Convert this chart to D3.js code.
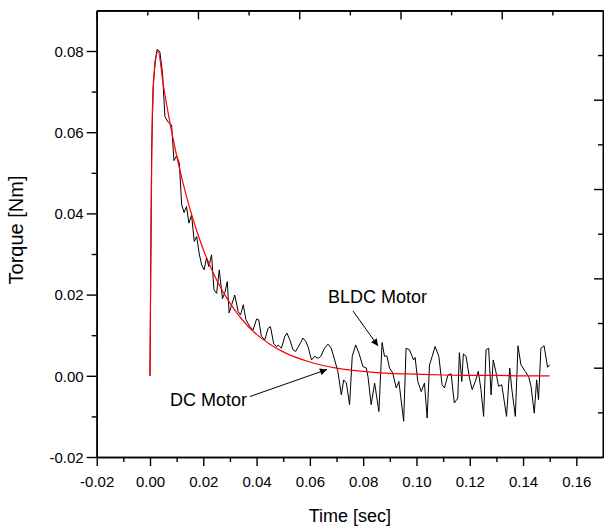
<!DOCTYPE html>
<html>
<head>
<meta charset="utf-8">
<script src="https://cdn.jsdelivr.net/npm/d3@7"></script>
<style>
  body { margin: 0; background: #fff; }
  svg { display: block; font-family: "Liberation Sans", Arial, sans-serif; }
</style>
</head>
<body>
<div id="chart"></div>
<script>
// Time axis [sec] for the BLDC motor trace
const bldcTime = [0, 0.0006, 0.0012, 0.0019, 0.0027, 0.0037, 0.0047, 0.0056, 0.0069, 0.0081,
  0.009, 0.01, 0.011, 0.0119, 0.0128, 0.0137, 0.0146, 0.0156, 0.0166, 0.0175,
  0.0185, 0.0194, 0.0203, 0.0212, 0.0221, 0.0231, 0.024, 0.025, 0.026, 0.0272,
  0.0281, 0.029, 0.0297, 0.0318, 0.0331, 0.034, 0.035, 0.036, 0.0375, 0.0387,
  0.04, 0.0408, 0.0418, 0.0431, 0.0443, 0.0452, 0.0464, 0.0474, 0.0483, 0.0493,
  0.0506, 0.0514, 0.0524, 0.0537, 0.0547, 0.0555, 0.0564, 0.0574, 0.0584, 0.0593,
  0.0606, 0.0618, 0.0631, 0.0641, 0.0655, 0.0668, 0.068, 0.0693, 0.0705, 0.0718,
  0.0727, 0.0737, 0.0749, 0.0759, 0.0772, 0.0784, 0.0799, 0.0812, 0.0818, 0.083,
  0.0843, 0.0859, 0.0871, 0.088, 0.0889, 0.0899, 0.0911, 0.0924, 0.0934, 0.0952,
  0.0961, 0.0974, 0.0989, 0.0995, 0.1005, 0.1018, 0.103, 0.104, 0.1049, 0.1059,
  0.107, 0.1084, 0.1096, 0.1105, 0.1118, 0.113, 0.1142, 0.1155, 0.1161, 0.117,
  0.1176, 0.1186, 0.1199, 0.1209, 0.1221, 0.1232, 0.1242, 0.1252, 0.1261, 0.1271,
  0.128, 0.1288, 0.1298, 0.1308, 0.132, 0.1338, 0.135, 0.1358, 0.1371, 0.1381,
  0.1392, 0.1408, 0.1421, 0.143, 0.1442, 0.1451, 0.1458, 0.1467, 0.1479, 0.1492, 0.15]

// Torque [Nm] of the BLDC motor
const bldcTorque = [0, 0.055, 0.071, 0.0775, 0.0804, 0.0798, 0.0745, 0.0638, 0.0624, 0.0618,
  0.053, 0.0542, 0.0524, 0.0421, 0.0402, 0.0417, 0.0376, 0.0396, 0.0331, 0.0343,
  0.0300, 0.0273, 0.0261, 0.029, 0.0269, 0.0298, 0.0212, 0.0203, 0.0261, 0.019,
  0.0205, 0.0232, 0.0155, 0.0199, 0.0158, 0.015, 0.0175, 0.0138, 0.0121, 0.0113,
  0.014, 0.0138, 0.0097, 0.0089, 0.0117, 0.0121, 0.008, 0.0072, 0.0075, 0.0068,
  0.0097, 0.0105, 0.009, 0.0064, 0.006, 0.007, 0.008, 0.0093, 0.0085, 0.0072,
  0.0039, 0.0048, 0.0043, 0.0048, 0.0068, 0.0078, 0.0068, 0.0039, 0.0011, -0.0047,
  -0.001, -0.0018, -0.0071, 0.0048, 0.0076, 0.0056, 0.0023, 0.0019, -0.0002, -0.0071,
  -0.0018, -0.0088, 0.0082, 0.0048, 0.0049, 0.0019, 0.0007, -0.003, -0.0014, -0.0112,
  0.0068, 0.0064, 0.0039, 0.0045, -0.0014, -0.0039, -0.0018, -0.0104, 0.0027, 0.0048,
  0.0072, 0.0048, -0.0022, -0.003, 0.0002, 0.0005, -0.0067, -0.0055, 0.0057, -0.0014,
  0.0054, 0.0048, -0.0006, -0.0034, -0.0014, 0.0011, -0.0034, -0.01, 0.0064, 0.0068,
  -0.0047, 0.0039, 0.001, -0.0026, -0.0022, -0.01, 0.0019, -0.0034, -0.01, 0.0074,
  0.0027, 0.0011, -0.0002, -0.0026, -0.0092, -0.001, -0.0059, 0.0068, 0.0074, 0.0021, 0.0027]

// DC motor trace (smooth)
const dcTime = [0, 0.0003, 0.0008, 0.0012, 0.0019, 0.003, 0.005, 0.0075, 0.01, 0.0125,
  0.015, 0.0175, 0.02, 0.025, 0.03, 0.035, 0.04, 0.045, 0.05, 0.06,
  0.07, 0.08, 0.09, 0.10, 0.11, 0.12, 0.13, 0.14, 0.15]
const dcTorque = [0, 0.03, 0.062, 0.071, 0.0766, 0.080, 0.0716, 0.0623, 0.0542, 0.0472,
  0.0411, 0.0358, 0.0311, 0.0236, 0.0179, 0.0135, 0.0102, 0.0078, 0.0059, 0.0034,
  0.0019, 0.0011, 0.0006, 0.0004, 0.0002, 0.0001, 0.0001, 0, 0]

// Tick values
const xMajor = [-0.02, 0, 0.02, 0.04, 0.06, 0.08, 0.10, 0.12, 0.14, 0.16]
const xMinor = [-0.01, 0.01, 0.03, 0.05, 0.07, 0.09, 0.11, 0.13, 0.15]
const yMajor = [-0.02, 0, 0.02, 0.04, 0.06, 0.08]
const yMinor = [-0.01, 0.01, 0.03, 0.05, 0.07]

const W = 604, H = 528
// plot frame edges (pixels)
const fLeft = 96.7, fRight = 603, fTop = 10.4, fBottom = 457

const svg = d3.select("#chart").append("svg").attr("width", W).attr("height", H)

const x = d3.scaleLinear().domain([-0.02, 0.17]).range([fLeft, fRight])
const y = d3.scaleLinear().domain([-0.02, 0.09]).range([fBottom, fTop])
// top and right axes are independent in the original (10 even steps each)
const xTop = d3.scaleLinear().domain([0, 10]).range([fLeft, fRight])
const yRight = d3.scaleLinear().domain([0, 10]).range([fTop, fBottom])

const fmt = v => v.toFixed(2)

// data lines, black first so the red sits on top
const bldc = bldcTime.map((t, i) => [t, bldcTorque[i]])
const dc = dcTime.map((t, i) => [t, dcTorque[i]])

svg.append("path").datum(bldc)
  .attr("fill", "none").attr("stroke", "#000").attr("stroke-width", 1)
  .attr("d", d3.line().x(d => x(d[0])).y(d => y(d[1])))

svg.append("path").datum(dc)
  .attr("fill", "none").attr("stroke", "#ff0000").attr("stroke-width", 1.2)
  .attr("d", d3.line().x(d => x(d[0])).y(d => y(d[1])).curve(d3.curveMonotoneX))

// axes
const axisStyle = g => {
  g.select(".domain").attr("stroke", "#000").attr("stroke-width", 1.6)
  g.selectAll(".tick line").attr("stroke", "#000").attr("stroke-width", 1.4)
}

svg.append("g").attr("transform", `translate(0,${fBottom})`)
  .call(d3.axisBottom(x).tickValues(xMinor).tickSize(5).tickFormat("").tickSizeOuter(0))
  .call(axisStyle)
svg.append("g").attr("transform", `translate(0,${fBottom})`)
  .call(d3.axisBottom(x).tickValues(xMajor).tickSize(9).tickFormat(fmt).tickSizeOuter(0))
  .call(axisStyle)
  .call(g => g.selectAll("text").attr("y", 30).attr("dy", 0)
    .attr("font-size", 15).attr("fill", "#000").attr("font-family", "Liberation Sans, Arial, sans-serif"))

svg.append("g").attr("transform", `translate(${fLeft},0)`)
  .call(d3.axisLeft(y).tickValues(yMinor).tickSize(5).tickFormat("").tickSizeOuter(0))
  .call(axisStyle)
svg.append("g").attr("transform", `translate(${fLeft},0)`)
  .call(d3.axisLeft(y).tickValues(yMajor).tickSize(10).tickFormat(fmt).tickSizeOuter(0))
  .call(axisStyle)
  .call(g => g.selectAll("text").attr("x", -13).attr("dy", "0.35em")
    .attr("font-size", 15).attr("fill", "#000").attr("font-family", "Liberation Sans, Arial, sans-serif"))

// top axis, ticks pointing inward
svg.append("g").attr("transform", `translate(0,${fTop})`)
  .call(d3.axisBottom(xTop).tickValues([1, 3, 5, 7, 9]).tickSize(5).tickFormat("").tickSizeOuter(0))
  .call(axisStyle)
svg.append("g").attr("transform", `translate(0,${fTop})`)
  .call(d3.axisBottom(xTop).tickValues([0, 2, 4, 6, 8]).tickSize(9).tickFormat("").tickSizeOuter(0))
  .call(axisStyle)

// right axis, ticks pointing inward
svg.append("g").attr("transform", `translate(${fRight},0)`)
  .call(d3.axisLeft(yRight).tickValues([1, 3, 5, 7, 9]).tickSize(5).tickFormat("").tickSizeOuter(0))
  .call(axisStyle)
svg.append("g").attr("transform", `translate(${fRight},0)`)
  .call(d3.axisLeft(yRight).tickValues([2, 4, 6, 8]).tickSize(9).tickFormat("").tickSizeOuter(0))
  .call(axisStyle)

// axis titles
svg.append("text").attr("x", (fLeft + fRight) / 2).attr("y", 522)
  .attr("text-anchor", "middle").attr("font-size", 18).text("Time [sec]")
svg.append("text").attr("transform", `translate(23,230) rotate(-90)`)
  .attr("text-anchor", "middle").attr("font-size", 20).text("Torque [Nm]")

// annotations with arrows
svg.append("defs").append("marker").attr("id", "arrow")
  .attr("viewBox", "0 0 10 10").attr("refX", 10).attr("refY", 5)
  .attr("markerWidth", 11).attr("markerHeight", 7).attr("markerUnits", "userSpaceOnUse")
  .attr("orient", "auto")
  .append("path").attr("d", "M0,0L10,5L0,10Z").attr("fill", "#000")

svg.append("text").attr("x", 328).attr("y", 303).attr("font-size", 18).text("BLDC Motor")
svg.append("line").attr("x1", 353).attr("y1", 311).attr("x2", 378).attr("y2", 346)
  .attr("stroke", "#000").attr("stroke-width", 1).attr("marker-end", "url(#arrow)")

svg.append("text").attr("x", 170).attr("y", 406).attr("font-size", 18).text("DC Motor")
svg.append("line").attr("x1", 250).attr("y1", 396.5).attr("x2", 327).attr("y2", 369.5)
  .attr("stroke", "#000").attr("stroke-width", 1).attr("marker-end", "url(#arrow)")
</script>
</body>
</html>
